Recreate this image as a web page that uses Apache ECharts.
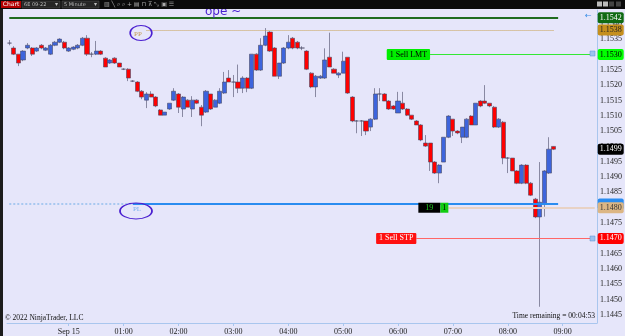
<!DOCTYPE html>
<html><head><meta charset="utf-8">
<script src="https://cdn.jsdelivr.net/npm/echarts@6/dist/echarts.min.js"></script>
<style>html,body{margin:0;padding:0;background:#e6e6fa;}#c{width:625px;height:336px;}</style>
</head><body><div id="c"></div>
<script>
// ---- data ----
const categories = [
'22:55','23:00','23:05','23:10','23:15','23:20','23:25','23:30','23:35','23:40','23:45','23:50','23:55',
'00:00','00:05','00:10','00:15','00:20','00:25','00:30','00:35','00:40','00:45','00:50','00:55',
'01:00','01:05','01:10','01:15','01:20','01:25','01:30','01:35','01:40','01:45','01:50','01:55',
'02:00','02:05','02:10','02:15','02:20','02:25','02:30','02:35','02:40','02:45','02:50','02:55',
'03:00','03:05','03:10','03:15','03:20','03:25','03:30','03:35','03:40','03:45','03:50','03:55',
'04:00','04:05','04:10','04:15','04:20','04:25','04:30','04:35','04:40','04:45','04:50','04:55',
'05:00','05:05','05:10','05:15','05:20','05:25','05:30','05:35','05:40','05:45','05:50','05:55',
'06:00','06:05','06:10','06:15','06:20','06:25','06:30','06:35','06:40','06:45','06:50','06:55',
'07:00','07:05','07:10','07:15','07:20','07:25','07:30','07:35','07:40','07:45','07:50','07:55',
'08:00','08:05','08:10','08:15','08:20','08:25','08:30','08:35','08:40','08:45','08:50','08:55',
'09:00','09:05','09:10','09:15','09:20','09:25','09:30','09:35'];

const opens = [
1.15337,1.15321,1.15301,1.15282,1.15321,1.15321,1.15311,1.15330,1.15314,1.15301,
1.15330,1.15340,1.15340,1.15311,1.15317,1.15321,1.15330,1.15353,1.15301,1.15301,
1.15311,1.15288,1.15272,1.15288,1.15272,1.15252,1.15252,1.15213,1.15210,1.15180,
1.15151,1.15171,1.15161,1.15119,1.15102,1.15122,1.15151,1.15171,1.15122,1.15151,
1.15122,1.15151,1.15128,1.15112,1.15171,1.15128,1.15141,1.15174,1.15223,1.15210,
1.15210,1.15190,1.15223,1.15190,1.15301,1.15249,1.15330,1.15373,1.15321,1.15229,
1.15272,1.15321,1.15353,1.15340,1.15321,1.15311,1.15239,1.15194,1.15223,1.15223,
1.15291,1.15252,1.15233,1.15239,1.15291,1.15161,1.15083,1.15083,1.15083,1.15063,
1.15089,1.15171,1.15171,1.15148,1.15132,1.15109,1.15141,1.15122,1.15102,1.15083,
1.15070,1.15011,1.15011,1.14949,1.14913,1.14949,1.15030,1.15089,1.15050,1.15030,
1.15030,1.15099,1.15070,1.15148,1.15148,1.15141,1.15128,1.15063,1.15079,1.14962,
1.14962,1.14920,1.14880,1.14939,1.14880,1.14828,1.14770,1.14812,1.14913,1.15000];

const closes = [
1.15337,1.15301,1.15272,1.15311,1.15330,1.15301,1.15321,1.15321,1.15321,1.15330,
1.15340,1.15350,1.15321,1.15321,1.15324,1.15330,1.15353,1.15301,1.15301,1.15311,
1.15301,1.15259,1.15282,1.15272,1.15259,1.15252,1.15223,1.15213,1.15180,1.15161,
1.15171,1.15161,1.15132,1.15102,1.15112,1.15141,1.15180,1.15128,1.15161,1.15128,
1.15151,1.15141,1.15102,1.15180,1.15122,1.15151,1.15180,1.15210,1.15210,1.15210,
1.15190,1.15223,1.15190,1.15301,1.15249,1.15330,1.15360,1.15311,1.15229,1.15272,
1.15321,1.15340,1.15321,1.15321,1.15321,1.15252,1.15194,1.15229,1.15229,1.15282,
1.15259,1.15239,1.15239,1.15278,1.15174,1.15083,1.15083,1.15083,1.15050,1.15089,
1.15171,1.15171,1.15148,1.15122,1.15122,1.15148,1.15122,1.15102,1.15089,1.15070,
1.15021,1.15001,1.14949,1.14913,1.14939,1.15030,1.15099,1.15050,1.15044,1.15063,
1.15089,1.15070,1.15141,1.15132,1.15141,1.15132,1.15063,1.15089,1.14962,1.14962,
1.14920,1.14880,1.14939,1.14880,1.14841,1.14770,1.14818,1.14920,1.14991,1.14991];

const lows = [
1.15330,1.15298,1.15262,1.15278,1.15317,1.15295,1.15308,1.15317,1.15311,1.15298,
1.15327,1.15337,1.15317,1.15308,1.15314,1.15317,1.15327,1.15295,1.15291,1.15298,
1.15298,1.15259,1.15269,1.15269,1.15259,1.15249,1.15213,1.15210,1.15177,1.15154,
1.15125,1.15161,1.15128,1.15102,1.15102,1.15119,1.15148,1.15109,1.15096,1.15128,
1.15096,1.15138,1.15066,1.15109,1.15119,1.15128,1.15138,1.15171,1.15210,1.15161,
1.15174,1.15174,1.15177,1.15187,1.15246,1.15246,1.15327,1.15308,1.15229,1.15220,
1.15269,1.15317,1.15317,1.15317,1.15314,1.15249,1.15190,1.15161,1.15220,1.15220,
1.15259,1.15239,1.15223,1.15239,1.15171,1.15079,1.15043,1.15034,1.15037,1.15050,
1.15086,1.15148,1.15148,1.15119,1.15119,1.15109,1.15119,1.15099,1.15086,1.15070,
1.15017,1.14998,1.14920,1.14910,1.14880,1.14949,1.15027,1.15034,1.15040,1.15011,
1.15027,1.15070,1.15070,1.15128,1.15138,1.15128,1.15060,1.15060,1.14942,1.14913,
1.14920,1.14877,1.14877,1.14877,1.14838,1.14766,1.14477,1.14771,1.14910,1.14988];

const highs = [
1.15347,1.15327,1.15301,1.15314,1.15337,1.15324,1.15324,1.15334,1.15324,1.15334,
1.15344,1.15353,1.15344,1.15324,1.15327,1.15334,1.15357,1.15363,1.15308,1.15344,
1.15314,1.15291,1.15285,1.15291,1.15272,1.15255,1.15255,1.15216,1.15213,1.15184,
1.15177,1.15180,1.15164,1.15122,1.15112,1.15141,1.15190,1.15174,1.15164,1.15154,
1.15164,1.15154,1.15135,1.15184,1.15171,1.15154,1.15190,1.15243,1.15249,1.15233,
1.15267,1.15229,1.15226,1.15301,1.15304,1.15353,1.15386,1.15376,1.15324,1.15272,
1.15324,1.15363,1.15357,1.15344,1.15327,1.15314,1.15242,1.15233,1.15233,1.15320,
1.15371,1.15255,1.15242,1.15309,1.15291,1.15164,1.15086,1.15086,1.15083,1.15092,
1.15190,1.15190,1.15174,1.15151,1.15135,1.15178,1.15178,1.15125,1.15102,1.15086,
1.15073,1.15037,1.15011,1.14952,1.14942,1.15030,1.15102,1.15089,1.15053,1.15063,
1.15092,1.15102,1.15141,1.15151,1.15200,1.15141,1.15132,1.15092,1.15083,1.14965,
1.14962,1.14923,1.14942,1.14942,1.14884,1.14832,1.14949,1.14923,1.15030,1.15001];

const yTicks = [1.1445,1.1450,1.1455,1.1460,1.1465,1.1470,1.1475,1.1480,1.1485,1.1490,1.1495,
                1.1500,1.1505,1.1510,1.1515,1.1520,1.1525,1.1530,1.1535,1.1540];
const yMin = 1.14424, yMax = 1.15445;

const levelR1 = 1.1542;     // dark green line
const levelPP = 1.1538;     // pivot
const levelSellLmt = 1.1530;
const levelPL = 1.14812;
const levelAvg = 1.1480;
const levelSellStp = 1.1470;
const positionQty = '19';
const orderQty = '1';

// ---- chart ----
const serif = 'Liberation Serif';
const candleData = opens.map((o, i) => [o, closes[i], lows[i], highs[i]]);
const lastIdx = closes.length - 1;
const lastClose = closes[lastIdx];
const lastCat = categories.length - 1;
const isTick = i => i >= 13 && (i - 13) % 12 === 0;

function seg(i0, i1, val, ls, label) {
  return [{coord: [i0, val], lineStyle: ls, label: label || {show: false}}, {coord: [i1, val]}];
}
function tag(val, bg, fg, text) {
  return seg(lastCat - 4, lastCat, val, {color: 'rgba(0,0,0,0)', width: 1},
    {show: true, position: 'end', distance: 3, formatter: text || val.toFixed(4),
      backgroundColor: bg, color: fg, padding: [2, 2, 1, 2], borderRadius: 2,
      fontFamily: serif, fontSize: 8});
}

const chart = echarts.init(document.getElementById('c'));
chart.setOption({
  animation: false,
  backgroundColor: '#e6e6fa',
  grid: {left: 7, right: 27, top: 10, bottom: 13, containLabel: false},
  xAxis: {
    type: 'category', data: categories, boundaryGap: true,
    axisLine: {lineStyle: {color: '#a9c6ee', width: 1}},
    axisTick: {show: true, alignWithLabel: true, interval: (i) => isTick(i), length: 3, lineStyle: {color: '#a9c6ee'}},
    axisLabel: {interval: (i) => isTick(i), formatter: v => v === '00:00' ? 'Sep 15' : v,
      fontFamily: serif, fontSize: 8, color: '#222', margin: 5},
    splitLine: {show: false}
  },
  yAxis: {
    type: 'value', position: 'right', min: yMin, max: yMax,
    axisLine: {show: true, lineStyle: {color: '#a9c6ee'}},
    axisTick: {show: false},
    splitLine: {show: false},
    axisLabel: {customValues: yTicks, formatter: v => v.toFixed(4), fontFamily: serif, fontSize: 8, color: '#222', margin: 3}
  },
  series: [{
    type: 'candlestick',
    data: candleData,
    clip: false,
    barWidth: 4.6,
    itemStyle: {color: '#3d64dc', color0: '#ff0000', borderColor: '#4a4a66', borderColor0: '#4a4a66', borderWidth: 0.6},
    markLine: {
      silent: true, symbol: ['none', 'none'], animation: false,
      data: [
        seg(0, 120, levelR1, {color: '#1f6b1f', width: 2, type: 'solid'}),
        seg(30, 119, levelPP, {color: '#c8a050', width: 1, type: 'dotted'}),
        seg(92, 127, levelSellLmt, {color: '#33e833', width: 1, type: 'solid'},
          {show: true, position: 'start', distance: 0, formatter: '1 Sell LMT', backgroundColor: '#00ee00',
           color: '#000', padding: [2, 3, 1, 3], borderRadius: 1, fontFamily: serif, fontSize: 8}),
        seg(0, 27, levelPL, {color: '#a8c8f0', width: 2, type: 'dotted'}),
        seg(27, 120, levelPL, {color: '#2a8cf0', width: 2, type: 'solid'}),
        seg(96, lastCat, levelAvg, {color: '#e8d2c4', width: 2, type: 'solid'},
          {show: true, position: 'start', distance: 0, formatter: '{a|' + positionQty + '}{b|' + orderQty + '}',
           rich: {a: {backgroundColor: '#000', color: '#22cc22', width: 22, align: 'center', height: 10, fontFamily: serif, fontSize: 8},
                  b: {backgroundColor: '#11cc11', color: '#000', width: 8, align: 'center', height: 10, fontFamily: serif, fontSize: 8}}}),
        seg(89, 127, levelSellStp, {color: '#ff6666', width: 1, type: 'solid'},
          {show: true, position: 'start', distance: 0, formatter: '1 Sell STP', backgroundColor: '#ff1010',
           color: '#fff', padding: [2, 3, 1, 3], borderRadius: 1, fontFamily: serif, fontSize: 8}),
        tag(levelR1, '#0f6a12', '#fff'),
        tag(levelPP, '#c58f1c', '#222'),
        tag(levelSellLmt, '#00ff00', '#000'),
        tag(lastClose, '#000', '#fff', lastClose.toFixed(4)),
        tag(levelPL, '#2a8cf0', '#2a8cf0'),
        tag(levelAvg, '#dcb684', '#333'),
        tag(levelSellStp, '#ff0000', '#fff')
      ]
    }
  }],
  graphic: [
    {type: 'rect', shape: {x: 0, y: 0, width: 625, height: 9}, style: {fill: '#0b0b0b'}, z: 100},
    {type: 'rect', shape: {x: 1, y: 1, width: 20, height: 7}, style: {fill: '#b40000'}, z: 101},
    {type: 'text', x: 11, y: 4.5, style: {text: 'Chart', fill: '#fff', font: '6px "DejaVu Sans"', align: 'center', verticalAlign: 'middle'}, z: 102},
    {type: 'rect', shape: {x: 22, y: 1, width: 38, height: 7}, style: {fill: '#262626', stroke: '#555', lineWidth: 0.5}, z: 101},
    {type: 'text', x: 24, y: 4.5, style: {text: '6E 09-22', fill: '#bbb', font: '5px "DejaVu Sans"', verticalAlign: 'middle'}, z: 102},
    {type: 'text', x: 55, y: 4.5, style: {text: '▾', fill: '#bbb', font: '6px "DejaVu Sans"', verticalAlign: 'middle'}, z: 102},
    {type: 'rect', shape: {x: 62, y: 1, width: 37, height: 7}, style: {fill: '#262626', stroke: '#555', lineWidth: 0.5}, z: 101},
    {type: 'text', x: 64, y: 4.5, style: {text: '5 Minute', fill: '#bbb', font: '5px "DejaVu Sans"', verticalAlign: 'middle'}, z: 102},
    {type: 'text', x: 94, y: 4.5, style: {text: '▾', fill: '#bbb', font: '6px "DejaVu Sans"', verticalAlign: 'middle'}, z: 102},
    {type: 'text', x: 104, y: 4.5, style: {text: '▥ ╲ ⌕ ⌕ + ▤ ⊓ ⊼ ⤡ ▣ ☰', fill: '#aaa', font: '6px "DejaVu Sans"', verticalAlign: 'middle'}, z: 102},
    {type: 'rect', shape: {x: 597, y: 1.5, width: 5, height: 5}, style: {fill: '#bbb'}, z: 101},
    {type: 'rect', shape: {x: 603, y: 1.5, width: 5, height: 5}, style: {fill: '#bbb'}, z: 101},
    {type: 'rect', shape: {x: 609, y: 1.5, width: 5, height: 5}, style: {fill: '#444'}, z: 101},
    {type: 'rect', shape: {x: 616, y: 1.5, width: 5, height: 5}, style: {fill: '#444'}, z: 101},
    {type: 'rect', shape: {x: 0, y: 9, width: 3, height: 327}, style: {fill: '#1c1c1c'}, z: 100},
    {type: 'text', x: 5, y: 318, style: {text: '© 2022 NinjaTrader, LLC', fill: '#111', font: '7.5px "Liberation Serif"', verticalAlign: 'middle'}, z: 50},
    {type: 'text', x: 595, y: 316, style: {text: 'Time remaining = 00:04:53', fill: '#111', font: '7.5px "Liberation Serif"', align: 'right', verticalAlign: 'middle'}, z: 50},
    {type: 'text', x: 138, y: 34, style: {text: 'PP', fill: '#c49a50', font: '7px "Liberation Serif"', align: 'center', verticalAlign: 'middle'}, z: 50},
    {type: 'text', x: 137, y: 209, style: {text: 'PL', fill: '#7ab0f0', font: '7px "Liberation Serif"', align: 'center', verticalAlign: 'middle'}, z: 50},
    {type: 'circle', x: 141, y: 33, scaleX: 1.45, scaleY: 1, shape: {cx: 0, cy: 0, r: 7.5}, style: {fill: 'none', stroke: '#4a1fd0', lineWidth: 1.1}, z: 60},
    {type: 'circle', x: 136, y: 211, scaleX: 2, scaleY: 1, shape: {cx: 0, cy: 0, r: 8}, style: {fill: 'none', stroke: '#4a1fd0', lineWidth: 0.9}, z: 60},
    {type: 'text', x: 205, y: 12, style: {text: 'ope ~', fill: '#4a1fd0', font: '12px "DejaVu Sans"', verticalAlign: 'middle'}, z: 60},
    {type: 'text', x: 585, y: 16, style: {text: '←', fill: '#3a8ee6', font: '8px "DejaVu Sans"', verticalAlign: 'middle'}, z: 60},
    {type: 'rect', shape: {x: 590, y: 51, width: 5, height: 5}, style: {fill: '#9cc3f0', stroke: '#5a8fd0', lineWidth: 0.5}, z: 60},
    {type: 'rect', shape: {x: 590, y: 236, width: 5, height: 5}, style: {fill: '#9cc3f0', stroke: '#5a8fd0', lineWidth: 0.5}, z: 60}
  ]
});
</script></body></html>
